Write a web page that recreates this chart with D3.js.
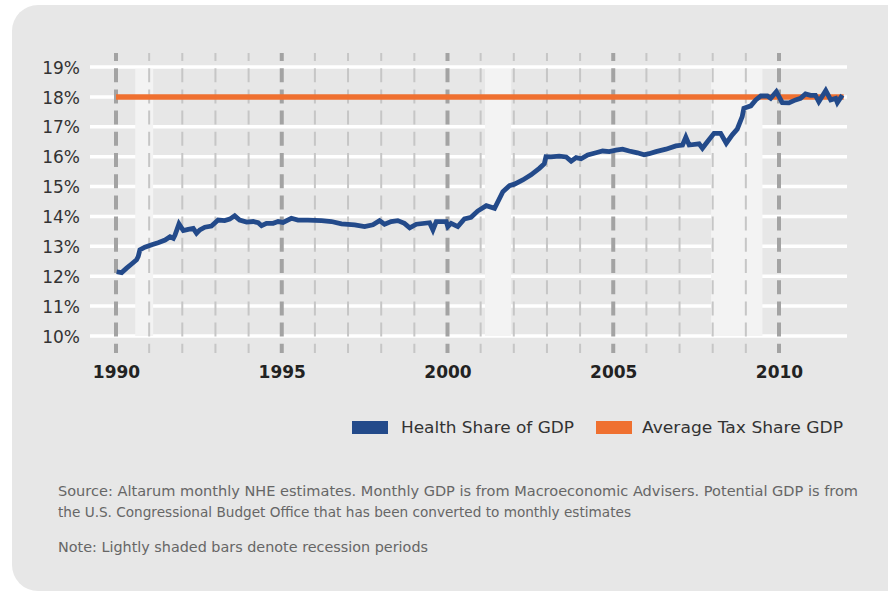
<!DOCTYPE html>
<html><head><meta charset="utf-8">
<script src="https://cdn.jsdelivr.net/npm/d3@7"></script>
<style>html,body{margin:0;padding:0;background:#fff;}svg{display:block;}</style>
</head><body>
<svg id="chart" width="888" height="593"></svg>
<script>
// ---- data ----
const yTicks = [10, 11, 12, 13, 14, 15, 16, 17, 18, 19];
const xTickYears = [1990, 1995, 2000, 2005, 2010];
const gridYears = d3.range(1990, 2011);
const recessions = [[1990.58, 1991.12], [2001.13, 2001.92], [2007.95, 2009.5]];
const avgTaxShare = 18;
const avgTaxSpan = [1990, 2011.95];
const healthYears = [1990.02,1990.17,1990.32,1990.47,1990.62,1990.67,1990.72,1990.87,1991.08,1991.27,1991.48,1991.63,1991.73,1991.78,1991.90,1992.03,1992.18,1992.33,1992.43,1992.53,1992.68,1992.88,1993.08,1993.28,1993.43,1993.58,1993.73,1993.94,1994.14,1994.29,1994.39,1994.54,1994.74,1994.89,1995.04,1995.29,1995.49,1995.79,1996.20,1996.50,1996.80,1997.20,1997.50,1997.75,1997.95,1998.10,1998.30,1998.50,1998.70,1998.86,1999.06,1999.46,1999.56,1999.66,1999.96,2000.01,2000.11,2000.31,2000.51,2000.71,2000.91,2001.17,2001.42,2001.67,2001.87,2002.02,2002.27,2002.52,2002.77,2002.92,2002.97,2003.12,2003.37,2003.58,2003.73,2003.88,2004.03,2004.23,2004.48,2004.68,2004.88,2005.08,2005.28,2005.48,2005.73,2005.93,2006.08,2006.29,2006.59,2006.89,2007.09,2007.19,2007.29,2007.59,2007.69,2007.84,2008.04,2008.24,2008.41,2008.59,2008.74,2008.89,2008.94,2009.15,2009.30,2009.45,2009.65,2009.75,2009.92,2010.10,2010.30,2010.50,2010.65,2010.80,2010.95,2011.10,2011.20,2011.41,2011.56,2011.71,2011.76,2011.91];
const healthShare = [12.15,12.12,12.27,12.41,12.55,12.66,12.88,12.97,13.05,13.12,13.21,13.32,13.27,13.38,13.75,13.53,13.57,13.60,13.44,13.55,13.64,13.68,13.88,13.86,13.91,14.02,13.88,13.81,13.83,13.79,13.69,13.77,13.77,13.83,13.80,13.94,13.88,13.88,13.86,13.83,13.75,13.72,13.66,13.72,13.86,13.74,13.83,13.86,13.77,13.62,13.74,13.79,13.55,13.83,13.83,13.66,13.77,13.66,13.92,13.97,14.18,14.36,14.27,14.83,15.03,15.08,15.22,15.39,15.61,15.76,16.00,15.99,16.02,15.99,15.85,15.97,15.93,16.06,16.13,16.19,16.17,16.22,16.25,16.19,16.13,16.06,16.10,16.17,16.25,16.36,16.39,16.65,16.39,16.43,16.28,16.50,16.78,16.78,16.45,16.73,16.92,17.34,17.62,17.70,17.90,18.03,18.03,17.95,18.17,17.81,17.80,17.90,17.95,18.10,18.05,18.05,17.84,18.21,17.90,17.95,17.81,18.06];
const legendLabels = ["Health Share of GDP", "Average Tax Share GDP"];
const sourceLines = ["Source: Altarum monthly NHE estimates. Monthly GDP is from Macroeconomic Advisers. Potential GDP is from",
                     "the U.S. Congressional Budget Office that has been converted to monthly estimates"];
const noteLine = "Note: Lightly shaded bars denote recession periods";

// ---- styles ----
const BLUE = "#234a8a", ORANGE = "#ef7030", PANEL = "#e7e7e7", SHADE = "#f3f3f3";

const svg = d3.select("#chart");
const x = d3.scaleLinear().domain([1990, 2010]).range([116, 779]);
const y = d3.scaleLinear().domain([10, 19]).range([336, 67]);

// panel
svg.append("rect").attr("x", 12).attr("y", 5).attr("width", 920).attr("height", 586)
  .attr("rx", 26).attr("fill", PANEL);

// horizontal white gridlines
svg.append("g").selectAll("line").data(yTicks).join("line")
  .attr("x1", 90).attr("x2", 847)
  .attr("y1", d => y(d)).attr("y2", d => y(d))
  .attr("stroke", "#ffffff").attr("stroke-width", 3.5);

// recession shading
svg.append("g").selectAll("rect").data(recessions).join("rect")
  .attr("x", d => x(d[0])).attr("width", d => x(d[1]) - x(d[0]))
  .attr("y", y(19) + 1.8).attr("height", y(10) - y(19) - 1.8)
  .attr("fill", SHADE);

// vertical dashed year lines
svg.append("g").selectAll("line").data(gridYears).join("line")
  .attr("x1", d => x(d)).attr("x2", d => x(d))
  .attr("y1", 53).attr("y2", 353)
  .attr("stroke", d => d % 5 === 0 ? "#a3a3a3" : "#c6c6c6")
  .attr("stroke-width", d => d % 5 === 0 ? 4 : 2)
  .attr("stroke-dasharray", "14,7.2").attr("stroke-dashoffset", 6);

// y axis labels
const yAxis = d3.axisLeft(y).tickValues(yTicks).tickFormat(d => d + "%").tickSize(0).tickPadding(0);
const gy = svg.append("g").attr("transform", "translate(80,0)").call(yAxis);
gy.select(".domain").remove();
gy.selectAll("text").attr("font-family", "'DejaVu Sans', Verdana, sans-serif")
  .attr("font-size", 17).attr("fill", "#333").attr("dy", "0.36em");

// x axis labels
const xAxis = d3.axisBottom(x).tickValues(xTickYears).tickFormat(d3.format("d")).tickSize(0).tickPadding(0);
const gx = svg.append("g").attr("transform", "translate(0,366)").call(xAxis);
gx.select(".domain").remove();
gx.selectAll("text").attr("font-family", "'DejaVu Sans', Verdana, sans-serif")
  .attr("font-size", 17).attr("font-weight", "bold").attr("fill", "#222").attr("dy", "0.72em");

// average tax share line
svg.append("line")
  .attr("x1", x(avgTaxSpan[0])).attr("x2", x(avgTaxSpan[1]))
  .attr("y1", y(avgTaxShare)).attr("y2", y(avgTaxShare))
  .attr("stroke", ORANGE).attr("stroke-width", 5.5);

// health share line
const pts = healthYears.map((yr, i) => [yr, healthShare[i]]);
svg.append("path").datum(pts)
  .attr("d", d3.line().x(d => x(d[0])).y(d => y(d[1])))
  .attr("fill", "none").attr("stroke", BLUE).attr("stroke-width", 4.8)
  .attr("stroke-linejoin", "miter").attr("stroke-miterlimit", 3);

// legend
const legend = [{c: BLUE, t: legendLabels[0], rx: 352, tx: 401, w: 173},
                {c: ORANGE, t: legendLabels[1], rx: 596, tx: 642, w: 201}];
const lg = svg.append("g");
lg.selectAll("rect").data(legend).join("rect")
  .attr("x", d => d.rx).attr("y", 421).attr("width", 36).attr("height", 13).attr("fill", d => d.c);
lg.selectAll("text").data(legend).join("text")
  .attr("x", d => d.tx).attr("y", 433)
  .attr("font-family", "'DejaVu Sans', Verdana, sans-serif").attr("font-size", 16)
  .attr("fill", "#333").attr("textLength", d => d.w).attr("lengthAdjust", "spacingAndGlyphs")
  .text(d => d.t);

// footnotes
const notes = [{t: sourceLines[0], y: 496, w: 800}, {t: sourceLines[1], y: 517, w: 573}, {t: noteLine, y: 552, w: 370}];
svg.append("g").selectAll("text").data(notes).join("text")
  .attr("x", 58).attr("y", d => d.y)
  .attr("font-family", "'DejaVu Sans', Verdana, sans-serif").attr("font-size", 14)
  .attr("fill", "#666").attr("textLength", d => d.w).attr("lengthAdjust", "spacingAndGlyphs")
  .text(d => d.t);
</script>
</body></html>
